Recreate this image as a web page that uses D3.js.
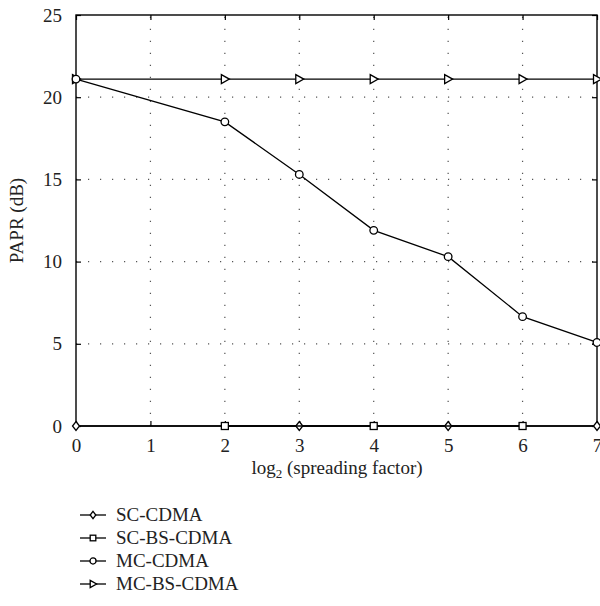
<!DOCTYPE html>
<meta charset="utf-8">
<script src="https://cdn.jsdelivr.net/npm/d3@7/dist/d3.min.js"></script>
<style>
body { margin: 0; background: #fff; }
text { font-family: "Liberation Serif", "DejaVu Serif", serif; fill: #222; }
.grid line { stroke: #555; stroke-width: 1.2; stroke-dasharray: 1.2,10.8; }
.series { fill: none; stroke: #000; stroke-width: 1.3; }
.mark { fill: #fff; stroke: #000; stroke-width: 1.3; }
</style>
<body>
<script>
// data
var xTicks = [0, 1, 2, 3, 4, 5, 6, 7];
var yTicks = [0, 5, 10, 15, 20, 25];
var seriesNames = ["SC-CDMA", "SC-BS-CDMA", "MC-CDMA", "MC-BS-CDMA"];
var scX = [0, 3, 5, 7];
var scY = [0, 0, 0, 0];
var scbsX = [2, 4, 6];
var scbsY = [0, 0, 0];
var mcX = [0, 2, 3, 4, 5, 6, 7];
var mcY = [21.1, 18.5, 15.3, 11.9, 10.3, 6.65, 5.08];
var mcbsX = [0, 2, 3, 4, 5, 6, 7];
var mcbsY = [21.1, 21.1, 21.1, 21.1, 21.1, 21.1, 21.1];

var pl = 76, pr = 597, pt = 15, pb = 426;

var svg = d3.select("body").append("svg")
    .attr("width", 600).attr("height", 606);

var x = d3.scaleLinear().domain([0, 7]).range([pl, pr]);
var y = d3.scaleLinear().domain([0, 25]).range([pb, pt]);

// grid
var grid = svg.append("g").attr("class", "grid");
grid.selectAll(".gx").data(xTicks.slice(1, -1)).enter().append("line")
    .attr("x1", function(d) { return x(d); }).attr("x2", function(d) { return x(d); })
    .attr("y1", pb).attr("y2", pt);
grid.selectAll(".gy").data(yTicks.slice(1, -1)).enter().append("line")
    .attr("y1", function(d) { return y(d); }).attr("y2", function(d) { return y(d); })
    .attr("x1", pl).attr("x2", pr);

// axes with inward ticks
function axisStyle(g) {
  g.select(".domain").remove();
  g.selectAll(".tick line").attr("stroke", "#000").attr("stroke-width", 1.2);
  g.selectAll(".tick text").attr("font-size", "19px").attr("fill", "#222")
    .attr("font-family", "Liberation Serif, serif");
}
svg.append("g").attr("transform", "translate(0," + pb + ")")
  .call(d3.axisBottom(x).tickValues(xTicks).tickFormat(d3.format("d")).tickSizeInner(-5).tickPadding(13))
  .call(axisStyle);
svg.append("g").attr("transform", "translate(0," + pt + ")")
  .call(d3.axisTop(x).tickValues(xTicks).tickFormat("").tickSizeInner(-5))
  .call(axisStyle);
svg.append("g").attr("transform", "translate(" + pl + ",0)")
  .call(d3.axisLeft(y).tickValues(yTicks).tickSizeInner(-5).tickPadding(14))
  .call(axisStyle);
svg.append("g").attr("transform", "translate(" + pr + ",0)")
  .call(d3.axisRight(y).tickValues(yTicks).tickFormat("").tickSizeInner(-5))
  .call(axisStyle);

svg.append("rect").attr("x", pl).attr("y", pt)
  .attr("width", pr - pl).attr("height", pb - pt)
  .attr("fill", "none").attr("stroke", "#000").attr("stroke-width", 1.4);

// markers
function marker(g, kind, cx, cy, k) {
  k = k || 1;
  var a = 3.5 * k, b = 4.5 * k;
  if (kind == "diamond") {
    g.append("path").attr("class", "mark")
      .attr("d", "M" + cx + "," + (cy - b) + "L" + (cx + a) + "," + cy + "L" + cx + "," + (cy + b) + "L" + (cx - a) + "," + cy + "Z");
  } else if (kind == "square") {
    g.append("rect").attr("class", "mark")
      .attr("x", cx - a).attr("y", cy - a).attr("width", 2 * a).attr("height", 2 * a);
  } else if (kind == "circle") {
    g.append("circle").attr("class", "mark").attr("cx", cx).attr("cy", cy).attr("r", 3.8 * k);
  } else {
    g.append("path").attr("class", "mark")
      .attr("d", "M" + (cx - a) + "," + (cy - b) + "L" + (cx + b) + "," + cy + "L" + (cx - a) + "," + (cy + b) + "Z");
  }
}

var line = d3.line().x(function(d) { return x(d[0]); }).y(function(d) { return y(d[1]); });
var kinds = ["diamond", "square", "circle", "triangle"];
var seriesData = [
  d3.zip(scX, scY),
  d3.zip(scbsX, scbsY),
  d3.zip(mcX, mcY),
  d3.zip(mcbsX, mcbsY)
];
var order = [0, 1, 3, 2];
order.forEach(function(s) {
  var g = svg.append("g");
  g.append("path").datum(seriesData[s]).attr("class", "series").attr("d", line);
  seriesData[s].forEach(function(p) { marker(g, kinds[s], x(p[0]), y(p[1])); });
});

// axis labels
var xl = svg.append("text").attr("x", 337).attr("y", 474)
  .attr("text-anchor", "middle").attr("font-size", "19px");
xl.append("tspan").text("log");
xl.append("tspan").text("2").attr("font-size", "13px").attr("dy", 4);
xl.append("tspan").text(" (spreading factor)").attr("dy", -4);

svg.append("text").attr("transform", "translate(23," + ((pt + pb) / 2) + ") rotate(-90)")
  .attr("text-anchor", "middle").attr("font-size", "19px").text("PAPR (dB)");

// legend
var leg = svg.selectAll(".leg").data(seriesNames).enter().append("g")
  .attr("transform", function(d, i) { return "translate(80," + (515 + i * 23) + ")"; });
leg.append("line").attr("x1", 0).attr("x2", 26).attr("y1", 0).attr("y2", 0)
  .attr("stroke", "#000").attr("stroke-width", 1.3);
leg.each(function(d, i) { marker(d3.select(this), kinds[i], 13, 0, 0.8); });
leg.append("text").attr("x", 36).attr("y", 6).attr("font-size", "19px").text(function(d) { return d; });
</script>
</body>
